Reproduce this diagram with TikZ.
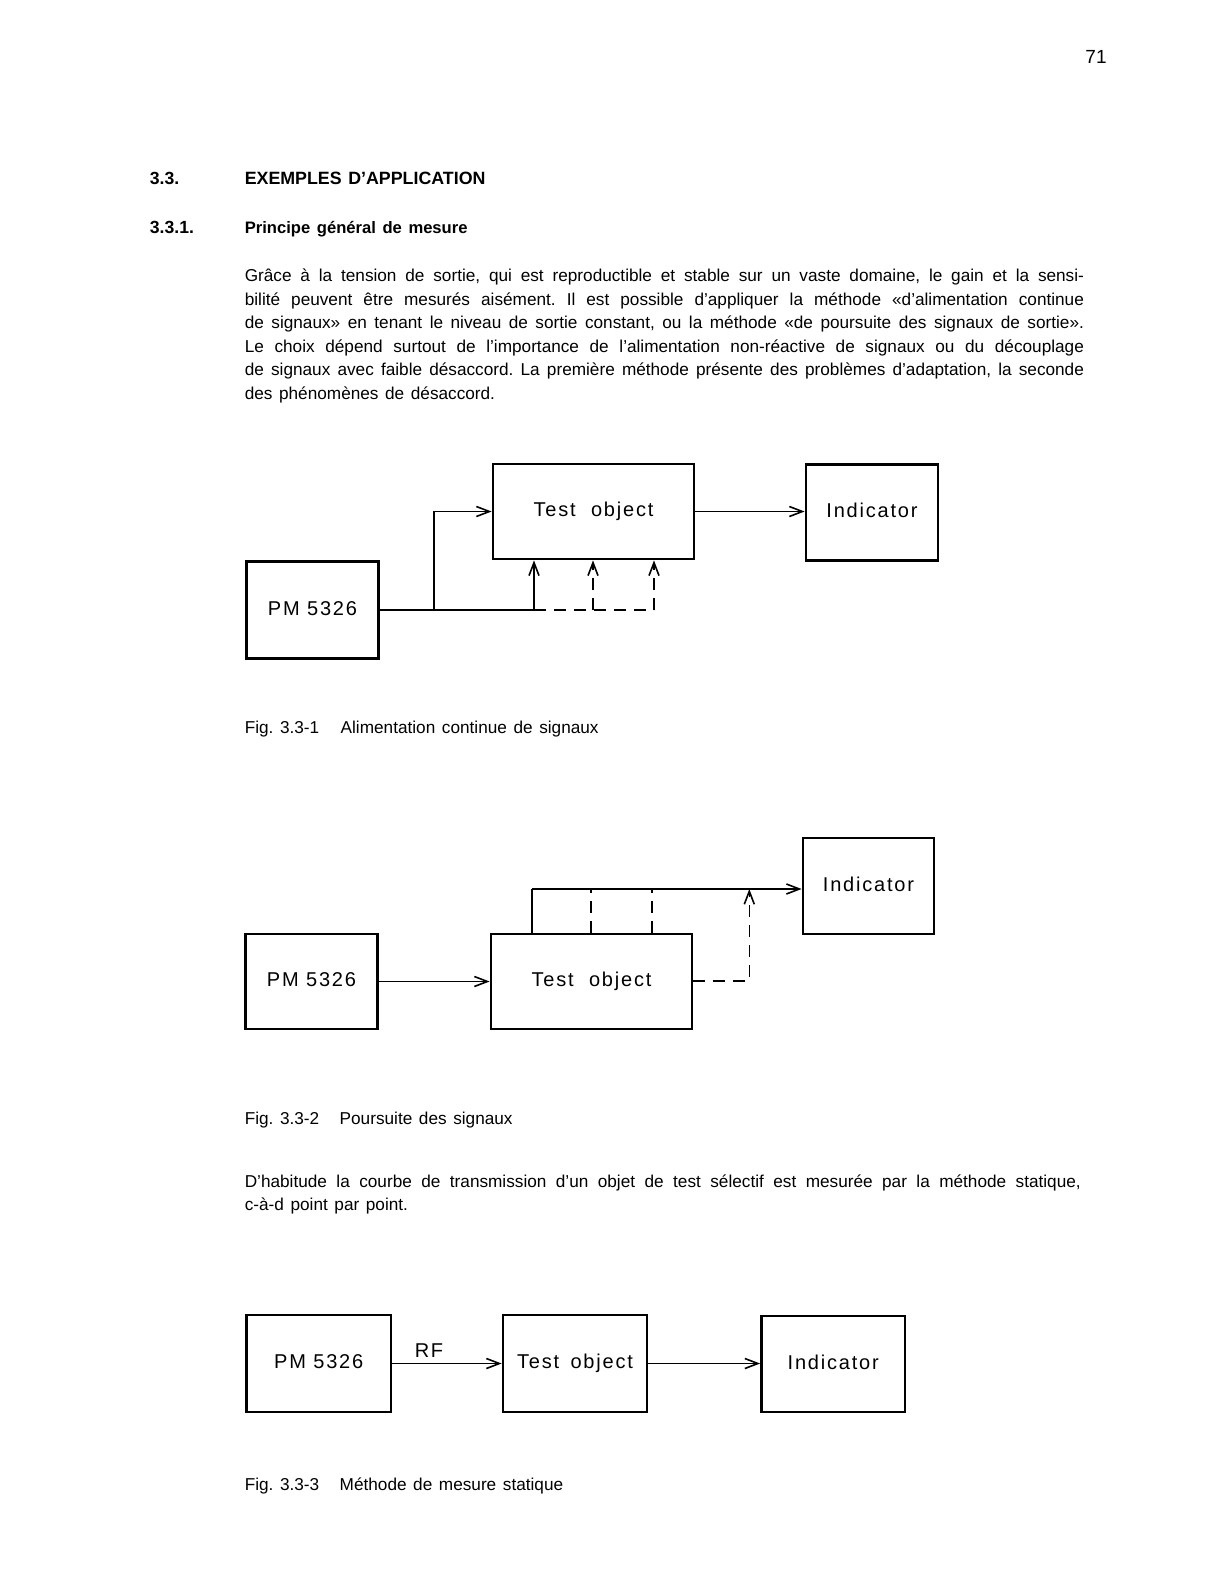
\documentclass[tikz,border=0pt]{standalone}
\usepackage{fontspec}
\setmainfont{Liberation Sans}
\newfontfamily\diagfont[LetterSpace=9]{Liberation Sans}
\usetikzlibrary{arrows.meta}
\frenchspacing
\newcommand\widesp{\spaceskip=3.3pt plus 4pt minus 0.4pt\xspaceskip=3.3pt plus 4pt minus 0.4pt\relax}
\begin{document}
\frenchspacing
\begin{tikzpicture}[x=0.5pt,y=-0.5pt,
  box/.style={draw, line width=1.4pt, inner sep=0pt,
    font=\diagfont\fontsize{10}{12}\selectfont, text height=7.3pt, text depth=2pt},
  lbl/.style={inner sep=0pt, font=\diagfont\fontsize{10}{12}\selectfont},
  conn/.style={line width=0.8pt},
  arr/.style={-{Straight Barb[length=6.5pt,width=5pt,line width=0.8pt]}},
  dsh/.style={dash pattern=on 6pt off 4pt},
  body/.style={anchor=base west, inner sep=0pt, font=\fontsize{8.6}{10.5}\selectfont\widesp},
  head/.style={anchor=base west, inner sep=0pt, font=\bfseries\fontsize{8.3}{10}\selectfont\widesp},
]
\useasboundingbox[fill=white] (0,0) rectangle (1224,1584);

% page number and headings
\node[anchor=base east, inner sep=0pt, font=\fontsize{9.5}{11}\selectfont] (pg) at (1107,64) {71};
\node[head, font=\bfseries\fontsize{8.8}{10}\selectfont] (h1n) at (149.5,184.5) {3.3.};
\node[head, font=\bfseries\fontsize{8.9}{10}\selectfont\widesp] (h1t) at (244.4,184.5) {EXEMPLES D’APPLICATION};
\node[head, font=\bfseries\fontsize{8.8}{10}\selectfont] (h2n) at (149.5,233) {3.3.1.};
\node[head] (h2t) at (244.4,233) {Principe général de mesure};

% paragraph 1
\node[body] (p1) at (244.4,281.5) {\makebox[419.6pt][s]{Grâce à la tension de sortie, qui est reproductible et stable sur un vaste domaine, le gain et la sensi-}};
\node[body] (p2) at (244.4,305) {\makebox[419.6pt][s]{bilité peuvent être mesurés aisément. Il est possible d’appliquer la méthode «d’alimentation continue}};
\node[body] (p3) at (244.4,328.5) {\makebox[419.6pt][s]{de signaux» en tenant le niveau de sortie constant, ou la méthode «de poursuite des signaux de sortie».}};
\node[body] (p4) at (244.4,352) {\makebox[419.6pt][s]{Le choix dépend surtout de l’importance de l’alimentation non-réactive de signaux ou du découplage}};
\node[body] (p5) at (244.4,375.5) {\makebox[419.6pt][s]{de signaux avec faible désaccord. La première méthode présente des problèmes d’adaptation, la seconde}};
\node[body] (p6) at (244.4,399) {des phénomènes de désaccord.};

% ---------------- Fig 1 ----------------
\node[box, minimum width=66pt, minimum height=48.5pt] (pm1) at (312.5,610) {PM 5326};
\node[box, minimum width=100.5pt, minimum height=47.5pt] (tb1) at (593.5,511.5) {Test\hspace{4pt} object};
\node[box, minimum width=66pt, minimum height=48pt] (ind1) at (872,512.5) {Indicator};
\coordinate (b1) at (434,610);
\coordinate (s1) at (534,610);
\coordinate (d1) at (593,610);
\coordinate (d2) at (654,610);
\draw[conn] (pm1.east) -- (s1);
\draw[conn,arr] (b1) |- (tb1.west);
\draw[conn,arr] (s1) -- (s1 |- tb1.south);
\draw[conn,dsh] (s1) -- (d2);
\draw[conn,dsh,arr] (d1) -- (d1 |- tb1.south);
\draw[conn,dsh,arr] (d2) -- (d2 |- tb1.south);
\draw[conn,arr] (tb1.east) -- (ind1.west |- tb1.east);
\node[body] (c1a) at (244.4,733) {Fig. 3.3-1};
\node[body] (c1b) at (340.3,733) {Alimentation continue de signaux};

% ---------------- Fig 2 ----------------
\node[box, minimum width=66pt, minimum height=47.5pt] (pm2) at (311.5,981.5) {PM 5326};
\node[box, minimum width=100.5pt, minimum height=47.5pt] (tb2) at (591.5,981.5) {Test\hspace{4pt} object};
\node[box, minimum width=65.5pt, minimum height=48pt] (ind2) at (868.5,886) {Indicator};
\coordinate (t0) at (532,889);
\coordinate (t1) at (590.7,889);
\coordinate (t2) at (651.7,889);
\coordinate (t3) at (749.3,889);
\coordinate (r2) at (749.3,980.7);
\draw[conn,arr] (pm2.east) -- (tb2.west |- pm2.east);
\draw[conn] (t0 |- tb2.north) -- (t0);
\draw[conn,arr] (t0) -- (ind2.west |- t0);
\draw[conn,dsh] (t1 |- tb2.north) -- (t1);
\draw[conn,dsh] (t2 |- tb2.north) -- (t2);
\draw[conn,dsh,arr] (tb2.east |- r2) -- (r2) -- (t3);
\node[body] (c2a) at (244.4,1124) {Fig. 3.3-2};
\node[body] (c2b) at (339.3,1124) {Poursuite des signaux};

% paragraph 2
\node[body] (q1) at (244.4,1187) {\makebox[418pt][s]{D’habitude la courbe de transmission d’un objet de test sélectif est mesurée par la méthode statique,}};
\node[body] (q2) at (244.4,1210.5) {c-à-d point par point.};

% ---------------- Fig 3 ----------------
\node[box, minimum width=72.25pt, minimum height=48.5pt] (pm3) at (318.75,1363.5) {PM 5326};
\node[box, minimum width=72pt, minimum height=48.5pt] (tb3) at (575,1363.5) {Test\hspace{2pt} object};
\node[box, minimum width=71.75pt, minimum height=48pt] (ind3) at (833.25,1364) {Indicator};
\draw[conn,arr] (pm3.east) -- (tb3.west);
\draw[conn,arr] (tb3.east) -- (ind3.west |- tb3.east);
\node[lbl] (rf) at (429,1351) {RF};
\node[body] (c3a) at (244.4,1490) {Fig. 3.3-3};
\node[body] (c3b) at (339.3,1490) {Méthode de mesure statique};
\end{tikzpicture}
\end{document}
